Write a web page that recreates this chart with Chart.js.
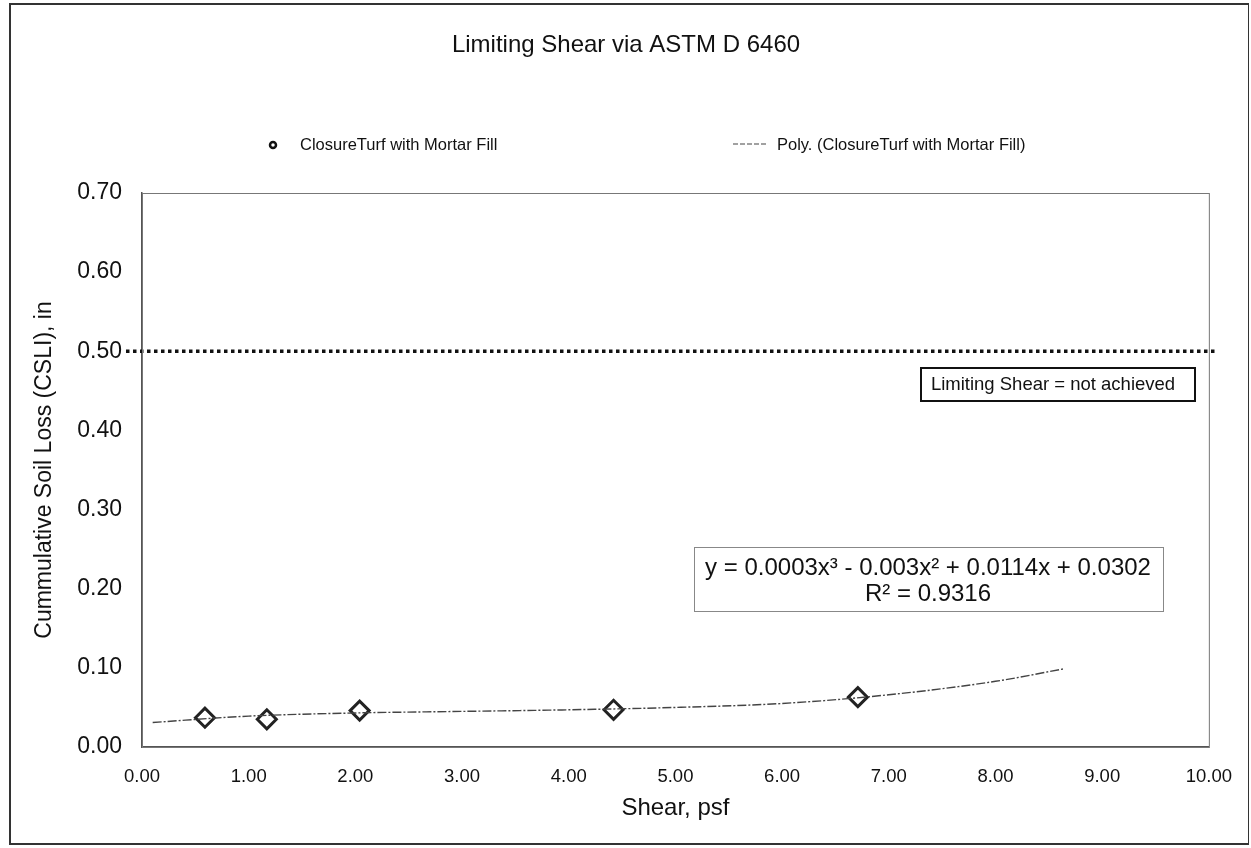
<!DOCTYPE html>
<html>
<head>
<meta charset="utf-8">
<script src="https://cdn.jsdelivr.net/npm/chart.js@4.4.0/dist/chart.umd.min.js"></script>
<style>
  body { margin: 0; background: #fff; }
  #wrap { position: relative; width: 1251px; height: 848px; }
  #frame { position: absolute; left: 9px; top: 3px; width: 1237px; height: 838px; border: 2px solid #333; border-right-width: 1px; pointer-events: none; }
</style>
</head>
<body>
<div id="wrap">
  <canvas id="chart" width="1251" height="848"></canvas>
  <div id="frame"></div>
</div>
<script>
// measured points
const shear = [0.59, 1.17, 2.04, 4.42, 6.71];
const soilLoss = [0.037, 0.035, 0.046, 0.047, 0.063];

// trend curve
const trendX = [0.1, 1, 2, 3, 4, 5, 6, 7, 8, 8.65];
const trendY = [0.031, 0.039, 0.043, 0.045, 0.047, 0.050, 0.055, 0.066, 0.083, 0.099];

// limiting line
const limitX = [-0.15, 10.07];
const limitY = 0.5;

const xTicks = [0, 1, 2, 3, 4, 5, 6, 7, 8, 9, 10];
const yTicks = [0, 0.1, 0.2, 0.3, 0.4, 0.5, 0.6, 0.7];

const seriesName = 'ClosureTurf with Mortar Fill';
const trendName = 'Poly. (ClosureTurf with Mortar Fill)';
const chartTitle = 'Limiting Shear via ASTM D 6460';
const eqLine1 = 'y = 0.0003x³ - 0.003x² + 0.0114x + 0.0302';
const eqLine2 = 'R² = 0.9316';
const limitNote = 'Limiting Shear = not achieved';

const FONT = '"Liberation Sans", Arial, sans-serif';

// draws title, legend, plot frame and the two text boxes
const extras = {
  id: 'extras',
  afterDraw(chart) {
    const ctx = chart.ctx;
    const a = chart.chartArea;
    ctx.save();

    // plot frame
    ctx.strokeStyle = '#777';
    ctx.lineWidth = 1;
    ctx.strokeRect(a.left + 0.5, a.top + 0.5, a.right - a.left, a.bottom - a.top);

    // title
    ctx.fillStyle = '#111';
    ctx.font = '24px ' + FONT;
    ctx.textAlign = 'center';
    ctx.textBaseline = 'middle';
    ctx.fillText(chartTitle, 626, 45);

    // legend
    ctx.font = '16.5px ' + FONT;
    ctx.textAlign = 'left';
    ctx.strokeStyle = '#111';
    ctx.lineWidth = 2.5;
    ctx.beginPath();
    ctx.arc(273, 145, 3, 0, Math.PI * 2);
    ctx.stroke();
    ctx.fillText(seriesName, 300, 145);
    ctx.lineWidth = 1.2;
    ctx.strokeStyle = '#444';
    ctx.setLineDash([5, 2]);
    ctx.beginPath();
    ctx.moveTo(733, 144);
    ctx.lineTo(766, 144);
    ctx.stroke();
    ctx.setLineDash([]);
    ctx.fillText(trendName, 777, 145);

    // limiting shear note
    ctx.fillStyle = '#fff';
    ctx.fillRect(921, 368, 274, 33);
    ctx.strokeStyle = '#111';
    ctx.lineWidth = 2;
    ctx.strokeRect(921, 368, 274, 33);
    ctx.fillStyle = '#111';
    ctx.font = '18.5px ' + FONT;
    ctx.textAlign = 'center';
    ctx.fillText(limitNote, 1053, 385);

    // trend equation
    ctx.fillStyle = '#fff';
    ctx.fillRect(694, 547, 469, 64);
    ctx.strokeStyle = '#888';
    ctx.lineWidth = 1;
    ctx.strokeRect(694.5, 547.5, 469, 64);
    ctx.fillStyle = '#111';
    ctx.font = '24px ' + FONT;
    ctx.fillText(eqLine1, 928, 568);
    ctx.fillText(eqLine2, 928, 594);

    ctx.restore();
  }
};

new Chart(document.getElementById('chart'), {
  type: 'scatter',
  data: {
    datasets: [
      {
        label: 'limit',
        data: limitX.map(x => ({ x: x, y: limitY })),
        showLine: true,
        borderColor: '#111',
        borderWidth: 3.5,
        borderDash: [3.5, 3.5],
        pointRadius: 0,
        clip: false,
        order: 3
      },
      {
        label: trendName,
        data: trendX.map((x, i) => ({ x: x, y: trendY[i] })),
        showLine: true,
        borderColor: '#444',
        borderWidth: 1.4,
        borderDash: [9, 2, 2, 2],
        cubicInterpolationMode: 'monotone',
        pointRadius: 0,
        order: 1
      },
      {
        label: seriesName,
        data: shear.map((x, i) => ({ x: x, y: soilLoss[i] })),
        pointStyle: 'rectRot',
        pointRadius: 9.5,
        pointBorderWidth: 3,
        pointBorderColor: '#222',
        pointBackgroundColor: 'rgba(255,255,255,0)',
        order: 2
      }
    ]
  },
  options: {
    responsive: false,
    animation: false,
    layout: { padding: { left: 12, right: 40, top: 193, bottom: 21 } },
    plugins: {
      legend: { display: false },
      title: { display: false },
      tooltip: { enabled: false }
    },
    scales: {
      x: {
        type: 'linear',
        min: 0,
        max: 10,
        afterFit: s => { s.height = 80; },
        afterBuildTicks: s => { s.ticks = xTicks.map(v => ({ value: v })); },
        grid: { display: false, drawTicks: false },
        border: { display: true, color: '#555', width: 1.5 },
        ticks: {
          padding: 19,
          color: '#111',
          font: { family: FONT, size: 18.5 },
          callback: v => v.toFixed(2)
        },
        title: {
          display: true,
          text: 'Shear, psf',
          color: '#111',
          font: { family: FONT, size: 24 },
          padding: { top: 10, bottom: 4 }
        }
      },
      y: {
        type: 'linear',
        min: 0,
        max: 0.7,
        afterFit: s => { s.width = 130; },
        afterBuildTicks: s => { s.ticks = yTicks.map(v => ({ value: v })); },
        grid: { display: false, drawTicks: false },
        border: { display: true, color: '#555', width: 1.5 },
        ticks: {
          padding: 20,
          color: '#111',
          font: { family: FONT, size: 23 },
          callback: v => v.toFixed(2)
        },
        title: {
          display: true,
          text: 'Cummulative Soil Loss (CSLI), in',
          color: '#111',
          font: { family: FONT, size: 23 },
          padding: { top: 19, bottom: 0 }
        }
      }
    }
  },
  plugins: [extras]
});
</script>
</body>
</html>
